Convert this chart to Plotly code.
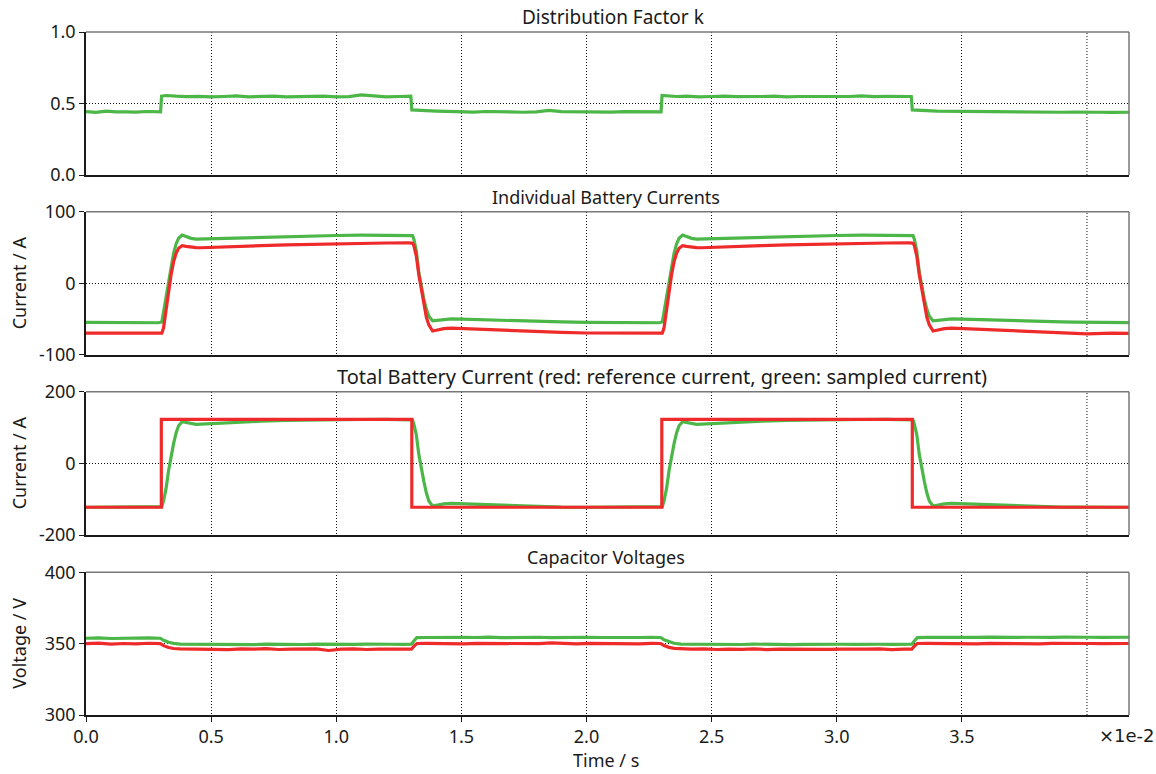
import plotly.graph_objects as go

# ---------------- data (x in units of 1e-2 s) ----------------
k_time = [0.00, 0.04, 0.08, 0.12, 0.16, 0.20, 0.24, 0.28, 0.298,
          0.302, 0.32, 0.36, 0.40, 0.45, 0.50, 0.55, 0.60, 0.65, 0.70, 0.75, 0.80, 0.85, 0.90, 0.95, 1.00, 1.05, 1.10, 1.15, 1.20, 1.25, 1.298,
          1.302, 1.32, 1.36, 1.40, 1.45, 1.50, 1.55, 1.60, 1.65, 1.70, 1.75, 1.80, 1.85, 1.90, 1.95, 2.00, 2.05, 2.10, 2.15, 2.20, 2.25, 2.298,
          2.302, 2.32, 2.36, 2.40, 2.45, 2.50, 2.55, 2.60, 2.65, 2.70, 2.75, 2.80, 2.85, 2.90, 2.95, 3.00, 3.05, 3.10, 3.15, 3.20, 3.25, 3.298,
          3.302, 3.32, 3.36, 3.40, 3.45, 3.50, 3.55, 3.60, 3.65, 3.70, 3.75, 3.80, 3.85, 3.90, 3.95, 4.00, 4.05, 4.10, 4.17]
k_values = [0.443, 0.438, 0.446, 0.441, 0.442, 0.440, 0.444, 0.439, 0.441,
            0.552, 0.556, 0.551, 0.548, 0.550, 0.546, 0.549, 0.553, 0.547, 0.548, 0.551, 0.546, 0.549, 0.547, 0.552, 0.546, 0.548, 0.560, 0.553, 0.547, 0.549, 0.551,
            0.455, 0.452, 0.450, 0.447, 0.445, 0.443, 0.440, 0.444, 0.441, 0.443, 0.439, 0.442, 0.452, 0.443, 0.441, 0.439, 0.442, 0.440, 0.443, 0.441, 0.439, 0.442,
            0.556, 0.553, 0.549, 0.551, 0.547, 0.549, 0.552, 0.548, 0.546, 0.549, 0.551, 0.547, 0.549, 0.548, 0.550, 0.546, 0.549, 0.553, 0.548, 0.550, 0.552, 0.549,
            0.455, 0.452, 0.450, 0.447, 0.446, 0.444, 0.441, 0.443, 0.440, 0.442, 0.439, 0.441, 0.438, 0.439, 0.440, 0.437, 0.439, 0.438, 0.439]

i_time = [0.00, 0.10, 0.20, 0.29, 0.303, 0.31, 0.32, 0.33, 0.34, 0.35, 0.36, 0.37, 0.384, 0.40, 0.42, 0.44, 0.46, 0.50,
          0.60, 0.70, 0.80, 0.90, 1.00, 1.10, 1.20, 1.29, 1.305, 1.31, 1.32, 1.33, 1.34, 1.35, 1.36, 1.37, 1.385,
          1.40, 1.43, 1.46, 1.50, 1.60, 1.70, 1.80, 1.90, 2.00, 2.10, 2.20, 2.29,
          2.303, 2.31, 2.32, 2.33, 2.34, 2.35, 2.36, 2.37, 2.384, 2.40, 2.42, 2.44, 2.46, 2.50,
          2.60, 2.70, 2.80, 2.90, 3.00, 3.10, 3.20, 3.29, 3.305, 3.31, 3.32, 3.33, 3.34, 3.35, 3.36, 3.37, 3.385,
          3.40, 3.43, 3.46, 3.50, 3.60, 3.70, 3.80, 3.90, 3.95, 4.00, 4.10, 4.17]
ib_green = [-54.5, -54.8, -55.0, -55.0, -54.0, -40, -15, 5, 25, 42, 55, 63, 67.4, 65.5, 62.8, 61.8, 62.0, 62.5,
            63.5, 64.5, 65.5, 66.2, 66.8, 67.2, 67.4, 67.4, 66.5, 62, 45, 15, -5, -22, -36, -46, -52.2,
            -51.5, -50.2, -49.5, -50.0, -51.2, -52.2, -53.2, -53.8, -54.5, -54.8, -55.0, -55.0,
            -54.0, -40, -15, 5, 25, 42, 55, 63, 67.4, 65.5, 62.8, 61.8, 62.0, 62.5,
            63.5, 64.5, 65.5, 66.2, 66.8, 67.2, 67.4, 67.4, 66.5, 62, 45, 15, -5, -22, -36, -46, -52.2,
            -51.5, -50.2, -49.5, -50.0, -51.2, -52.2, -53.2, -53.8, -54.0, -54.3, -54.6, -54.8]
ib_red = [-69.5, -69.8, -69.8, -69.8, -69.5, -62, -38, -10, 12, 30, 42, 49, 52.5, 51.5, 50.3, 49.8, 49.7, 50.3,
          51.5, 52.6, 53.6, 54.5, 55.2, 55.8, 56.3, 56.6, 56.0, 53, 38, 12, -10, -30, -47, -58, -66.6,
          -65.5, -63.2, -62.4, -63.0, -64.8, -66.2, -67.5, -68.5, -69.3, -69.6, -69.8, -69.8,
          -69.5, -62, -38, -10, 12, 30, 42, 49, 52.5, 51.5, 50.3, 49.8, 49.7, 50.3,
          51.5, 52.6, 53.6, 54.5, 55.2, 55.8, 56.3, 56.6, 56.0, 53, 38, 12, -10, -30, -47, -58, -66.6,
          -65.5, -63.2, -62.4, -63.0, -64.8, -66.2, -67.5, -68.5, -69.2, -70.5, -69.6, -69.8]

it_green = [-122.5, -122.5, -122.5, -122.5, -121, -105, -70, -20, 20, 55, 85, 105, 116, 114, 111, 109, 109.5, 111,
            114.5, 117.5, 119.5, 121, 121.8, 122.3, 122.5, 122.5, 121, 110, 80, 25, -15, -50, -82, -105, -119,
            -117, -113, -111.5, -112.5, -116, -119, -121, -122, -122.5, -122.5, -122.5, -122.5,
            -121, -105, -70, -20, 20, 55, 85, 105, 116, 114, 111, 109, 109.5, 111,
            114.5, 117.5, 119.5, 121, 121.8, 122.3, 122.5, 122.5, 121, 110, 80, 25, -15, -50, -82, -105, -119,
            -117, -113, -111.5, -112.5, -116, -119, -121, -122, -122.3, -122.5, -122.5, -122.5]
ref_time = [0.00, 0.301, 0.301, 1.302, 1.302, 2.301, 2.301, 3.302, 3.302, 4.17]
ref_values = [-122.5, -122.5, 122.5, 122.5, -122.5, -122.5, 122.5, 122.5, -122.5, -122.5]

v_time = [0.00, 0.05, 0.10, 0.15, 0.20, 0.25, 0.297, 0.31, 0.33, 0.35, 0.377,
          0.42, 0.47, 0.52, 0.57, 0.62, 0.67, 0.72, 0.77, 0.82, 0.87, 0.92, 0.97, 1.02, 1.07, 1.12, 1.17, 1.22, 1.27, 1.300,
          1.311, 1.322,
          1.36, 1.41, 1.46, 1.51, 1.56, 1.61, 1.66, 1.71, 1.76, 1.81, 1.86, 1.91, 1.96, 2.01, 2.06, 2.11, 2.16, 2.21, 2.26, 2.297,
          2.31, 2.33, 2.35, 2.377,
          2.42, 2.47, 2.52, 2.57, 2.62, 2.67, 2.72, 2.77, 2.82, 2.87, 2.92, 2.97, 3.02, 3.07, 3.12, 3.17, 3.22, 3.27, 3.300,
          3.311, 3.322,
          3.36, 3.41, 3.46, 3.51, 3.56, 3.61, 3.66, 3.71, 3.76, 3.81, 3.86, 3.91, 3.96, 4.01, 4.06, 4.11, 4.17]
vc_green = [353.8, 354.0, 353.6, 353.9, 353.7, 354.0, 353.8, 352.4, 351.0, 350.2, 349.7,
            349.6, 349.4, 349.7, 349.5, 349.6, 349.3, 349.7, 349.5, 349.6, 349.4, 349.7, 349.5, 349.6, 349.5, 349.7, 349.4, 349.6, 349.5, 349.6,
            352.0, 354.2,
            354.3, 354.5, 354.2, 354.4, 354.3, 354.6, 354.2, 354.4, 354.3, 354.5, 354.2, 354.4, 354.3, 354.5, 354.3, 354.2, 354.4, 354.3, 354.5, 354.3,
            352.7, 351.2, 350.3, 349.7,
            349.6, 349.5, 349.3, 349.6, 349.4, 349.7, 349.5, 349.6, 349.3, 349.5, 349.7, 349.4, 349.6, 349.5, 349.3, 349.6, 349.5, 349.4, 349.6,
            352.1, 354.2,
            354.4, 354.3, 354.5, 354.2, 354.4, 354.6, 354.3, 354.4, 354.5, 354.3, 354.4, 354.6, 354.3, 354.5, 354.4, 354.3, 354.5]
vc_red = [350.0, 350.4, 349.7, 350.1, 349.8, 350.3, 350.0, 348.6, 347.3, 346.6, 346.3,
          346.2, 346.0, 346.4, 345.8, 346.3, 346.1, 346.5, 345.9, 346.2, 346.0, 346.3, 345.2, 346.1, 346.3, 345.9, 346.2, 346.0, 346.3, 346.1,
          348.3, 350.1,
          350.2, 350.0, 350.3, 349.9, 350.2, 350.1, 350.4, 349.9, 350.2, 350.0, 350.6, 350.1, 349.9, 350.2, 350.0, 350.3, 350.1, 349.9, 350.2, 350.1,
          348.7, 347.4, 346.7, 346.3,
          346.1, 346.3, 345.9, 346.2, 346.0, 346.4, 345.8, 346.2, 346.1, 345.9, 346.3, 346.0, 346.2, 345.9, 346.1, 346.3, 345.8, 346.1, 346.2,
          348.4, 350.1,
          350.2, 350.0, 350.3, 350.1, 349.9, 350.2, 350.0, 350.3, 350.1, 349.9, 350.2, 350.0, 350.3, 350.1, 350.0, 350.2, 350.1]

x_tickvals = [0.0, 0.5, 1.0, 1.5, 2.0, 2.5, 3.0, 3.5]
x_ticktext = ["0.0", "0.5", "1.0", "1.5", "2.0", "2.5", "3.0", "3.5"]
x_extra_grid = 4.0
panel_titles = ["Distribution Factor k", "Individual Battery Currents",
                "Total Battery Current (red: reference current, green: sampled current)",
                "Capacitor Voltages"]
y_titles = ["", "Current / A", "Current / A", "Voltage / V"]
y_ranges = [[0, 1], [-100, 100], [-200, 200], [300, 400]]
y_tickvals = [[0, 0.5, 1.0], [-100, 0, 100], [-200, 0, 200], [300, 350, 400]]
y_ticktext = [["0.0", "0.5", "1.0"], ["-100", "0", "100"], ["-200", "0", "200"], ["300", "350", "400"]]

# ---------------- styling ----------------
GREEN = "#4cb748"
RED = "#ee2a2a"
FONT = "Noto Sans"
TXT = "#1a1a1a"
domains = [[0.7906, 1.0], [0.5271, 0.7369], [0.2635, 0.4734], [0.0, 0.2089]]
title_x = [0.505, 0.4985, 0.552, 0.4985]
title_size = [19, 18, 20, 18]

fig = go.Figure()
def add(x, y, color, row):
    fig.add_trace(go.Scatter(x=x, y=y, mode="lines", line=dict(color=color, width=3.2),
                             xaxis="x" if row == 1 else f"x{row}",
                             yaxis="y" if row == 1 else f"y{row}",
                             showlegend=False, hoverinfo="skip"))

add(k_time, k_values, GREEN, 1)
add(i_time, ib_green, GREEN, 2)
add(i_time, ib_red, RED, 2)
add(i_time, it_green, GREEN, 3)
add(ref_time, ref_values, RED, 3)
add(v_time, vc_green, GREEN, 4)
add(v_time, vc_red, RED, 4)

layout = dict(width=1156, height=774, paper_bgcolor="white", plot_bgcolor="white",
              margin=dict(l=86, r=27, t=32, b=59),
              font=dict(family=FONT, size=18, color=TXT), showlegend=False)
annotations = []
shapes = []
for i in range(4):
    r = i + 1
    xa = "xaxis" if r == 1 else f"xaxis{r}"
    ya = "yaxis" if r == 1 else f"yaxis{r}"
    bottom = (r == 4)
    layout[xa] = dict(domain=[0, 1], range=[0, 4.168], anchor="y" if r == 1 else f"y{r}",
                      tickmode="array", tickvals=x_tickvals, ticktext=x_ticktext,
                      showticklabels=bottom, ticks="outside" if bottom else "", ticklen=5,
                      tickcolor=TXT, showgrid=True, griddash="1px,2px", gridcolor="#111", gridwidth=1,
                      showline=True, linecolor=TXT, linewidth=1.5, zeroline=False,
                      tickfont=dict(size=18, family=FONT, color=TXT),
                      matches="x" if r != 1 else None)
    layout[ya] = dict(domain=domains[i], range=y_ranges[i], anchor="x" if r == 1 else f"x{r}",
                      tickmode="array", tickvals=y_tickvals[i], ticktext=y_ticktext[i],
                      ticks="outside", ticklen=5, tickcolor=TXT,
                      showgrid=True, griddash="1px,2px", gridcolor="#111", gridwidth=1,
                      showline=True, linecolor=TXT, linewidth=1.5, zeroline=False,
                      tickfont=dict(size=18, family=FONT, color=TXT))
    xname = "x" if r == 1 else f"x{r}"
    yd = f"y{'' if r == 1 else r} domain"
    xd = f"x{'' if r == 1 else r} domain"
    shapes.append(dict(type="line", xref=xname, yref=yd, x0=x_extra_grid, x1=x_extra_grid, y0=0, y1=1,
                       line=dict(color="#111", width=1, dash="1px,2px"), layer="below"))
    shapes.append(dict(type="line", xref=xd, yref=yd, x0=0, x1=1, y0=1, y1=1,
                       line=dict(color="#777", width=1.5), layer="above"))
    shapes.append(dict(type="line", xref=xd, yref=yd, x0=1, x1=1, y0=0, y1=1,
                       line=dict(color="#777", width=1.5), layer="above"))
    annotations.append(dict(text=panel_titles[i], xref="paper", yref="paper", x=title_x[i], y=domains[i][1],
                            xanchor="center", yanchor="middle", yshift=15, showarrow=False,
                            font=dict(size=title_size[i], family=FONT, color=TXT)))
    if y_titles[i]:
        annotations.append(dict(text=y_titles[i], xref="paper", yref="paper", x=0,
                                y=(domains[i][0] + domains[i][1]) / 2, xanchor="center", yanchor="middle",
                                xshift=-67, textangle=-90, showarrow=False,
                                font=dict(size=18, family=FONT, color=TXT)))

annotations.append(dict(text="Time / s", xref="paper", yref="paper", x=0.4985, y=0, xanchor="center",
                        yanchor="middle", yshift=-45, showarrow=False, borderpad=0,
                        font=dict(size=18, family=FONT, color=TXT)))
annotations.append(dict(text="×1e-2", xref="paper", yref="paper", x=1, y=0, xanchor="center",
                        yanchor="middle", xshift=-2, yshift=-20, showarrow=False, borderpad=0,
                        font=dict(size=18, family="DejaVu Sans", color=TXT)))
layout["annotations"] = annotations
layout["shapes"] = shapes
fig.update_layout(**layout)
fig.write_html("out.html", config={"displayModeBar": False},
               post_script="document.body.style.margin='0';")
